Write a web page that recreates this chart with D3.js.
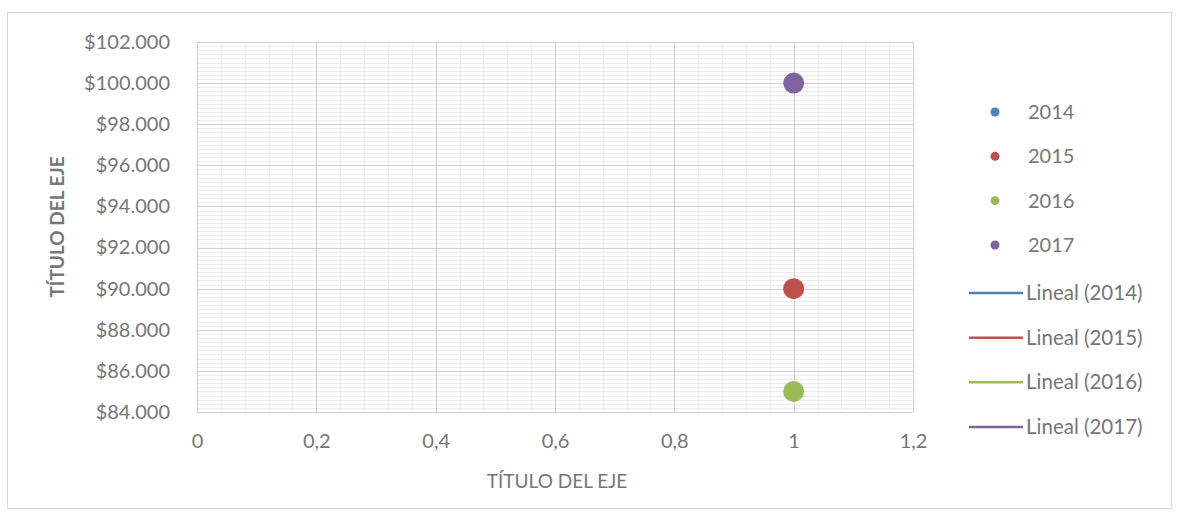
<!DOCTYPE html>
<html>
<head>
<meta charset="utf-8">
<script src="https://cdn.jsdelivr.net/npm/d3@7"></script>
<style>
  html, body { margin: 0; padding: 0; background: #fff; }
  svg { display: block; font-family: Lato, "Open Sans", sans-serif; }
</style>
</head>
<body>
<svg id="chart" width="1178" height="521"></svg>
<script>
// Series: one point per year at x = 1
const seriesNames = ["2014", "2015", "2016", "2017"];
const seriesX = [1, 1, 1, 1];
const seriesY = [80000, 90000, 85000, 100000];
const seriesColors = ["#4F81BD", "#C0504D", "#9BBB59", "#8064A2"];
const trendNames = ["Lineal (2014)", "Lineal (2015)", "Lineal (2016)", "Lineal (2017)"];

const xTicks = [0, 0.2, 0.4, 0.6, 0.8, 1, 1.2];
const yTicks = [84000, 86000, 88000, 90000, 92000, 94000, 96000, 98000, 100000, 102000];
const axisTitle = "TÍTULO DEL EJE";

const textColor = "#767676";
const svg = d3.select("#chart");
const plot = { left: 197, right: 913, top: 42, bottom: 412 };

// outer chart frame
svg.append("rect")
  .attr("x", 7.5).attr("y", 12.5)
  .attr("width", 1164).attr("height", 496)
  .attr("fill", "#fff").attr("stroke", "#d9d9d9");

const x = d3.scaleLinear().domain([0, 1.2]).range([plot.left, plot.right]);
const y = d3.scaleLinear().domain([84000, 102000]).range([plot.bottom, plot.top]);

const g = svg.append("g");

// minor gridlines
const xMinor = d3.range(0, 1.2001, 0.04);
const yMinor = d3.range(84000, 102001, 200);
g.selectAll(".xminor").data(xMinor).enter().append("line")
  .attr("x1", d => Math.round(x(d)) + 0.5).attr("x2", d => Math.round(x(d)) + 0.5)
  .attr("y1", plot.top).attr("y2", plot.bottom)
  .attr("stroke", "#efefef").attr("stroke-width", 1);
g.selectAll(".yminor").data(yMinor).enter().append("line")
  .attr("y1", d => Math.round(y(d)) + 0.5).attr("y2", d => Math.round(y(d)) + 0.5)
  .attr("x1", plot.left).attr("x2", plot.right)
  .attr("stroke", "#ececec").attr("stroke-width", 1);

// major gridlines
g.selectAll(".xmajor").data(xTicks).enter().append("line")
  .attr("x1", d => Math.round(x(d)) + 0.5).attr("x2", d => Math.round(x(d)) + 0.5)
  .attr("y1", plot.top).attr("y2", plot.bottom)
  .attr("stroke", "#d0d0d0").attr("stroke-width", 1);
g.selectAll(".ymajor").data(yTicks).enter().append("line")
  .attr("y1", d => Math.round(y(d)) + 0.5).attr("y2", d => Math.round(y(d)) + 0.5)
  .attr("x1", plot.left).attr("x2", plot.right)
  .attr("stroke", "#d0d0d0").attr("stroke-width", 1);

// axis labels
const fmtMoney = d => "$" + d3.format(",")(d).replace(/,/g, ".");
const fmtDec = d => String(d).replace(".", ",");

const yAxis = d3.axisLeft(y).tickValues(yTicks).tickFormat(fmtMoney).tickSize(0).tickPadding(27);
const yg = svg.append("g").attr("transform", `translate(${plot.left},0)`).call(yAxis);
yg.select(".domain").remove();
yg.selectAll("text").attr("fill", textColor).style("font-size", "20px").style("font-family", "Lato, sans-serif");

const xAxis = d3.axisBottom(x).tickValues(xTicks).tickFormat(fmtDec).tickSize(0).tickPadding(22);
const xg = svg.append("g").attr("transform", `translate(0,${plot.bottom})`).call(xAxis);
xg.select(".domain").remove();
xg.selectAll("text").attr("fill", textColor).style("font-size", "20px").style("font-family", "Lato, sans-serif");

// axis titles
svg.append("text")
  .attr("x", 557).attr("y", 488)
  .attr("text-anchor", "middle").attr("fill", textColor)
  .style("font-size", "19px").text(axisTitle);
svg.append("text")
  .attr("transform", `translate(64,${(plot.top + plot.bottom) / 2}) rotate(-90)`)
  .attr("text-anchor", "middle").attr("fill", textColor)
  .style("font-size", "19px").style("font-weight", "bold").text(axisTitle);

// points, clipped to the plot area
svg.append("clipPath").attr("id", "plotClip").append("rect")
  .attr("x", plot.left).attr("y", plot.top)
  .attr("width", plot.right - plot.left).attr("height", plot.bottom - plot.top);
const pts = seriesNames.map((n, i) => ({ name: n, x: seriesX[i], y: seriesY[i], color: seriesColors[i] }));
svg.append("g").attr("clip-path", "url(#plotClip)")
  .selectAll("circle").data(pts).enter().append("circle")
  .attr("cx", d => x(d.x)).attr("cy", d => y(d.y))
  .attr("r", 10.5).attr("fill", d => d.color);

// legend
const legMarkerY = d3.scalePoint().domain(seriesNames).range([112, 245]);
const leg = svg.append("g");
leg.selectAll("circle").data(pts).enter().append("circle")
  .attr("cx", 995).attr("cy", d => legMarkerY(d.name)).attr("r", 4.5)
  .attr("fill", d => d.color);
leg.selectAll("text.s").data(pts).enter().append("text")
  .attr("class", "s")
  .attr("x", 1028).attr("y", d => legMarkerY(d.name) + 7)
  .attr("fill", textColor).style("font-size", "20px").text(d => d.name);

const legLineY = d3.scalePoint().domain(trendNames).range([293, 427]);
const trends = trendNames.map((n, i) => ({ name: n, color: seriesColors[i] }));
leg.selectAll("line").data(trends).enter().append("line")
  .attr("x1", 969).attr("x2", 1023)
  .attr("y1", d => legLineY(d.name)).attr("y2", d => legLineY(d.name))
  .attr("stroke", d => d.color).attr("stroke-width", 2.5);
leg.selectAll("text.t").data(trends).enter().append("text")
  .attr("class", "t")
  .attr("x", 1026).attr("y", d => legLineY(d.name) + 7)
  .attr("fill", textColor).style("font-size", "20.5px").text(d => d.name);
</script>
</body>
</html>
